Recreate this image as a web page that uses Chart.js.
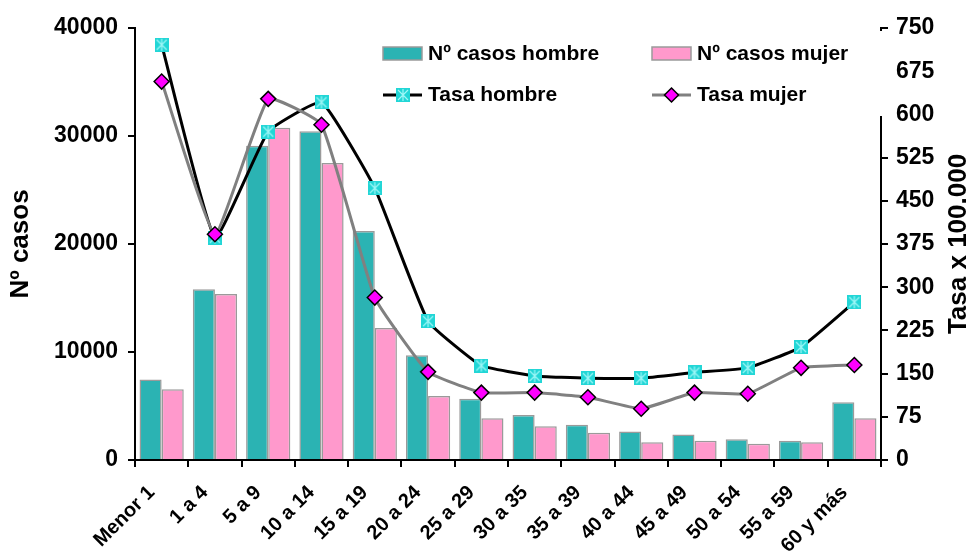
<!DOCTYPE html>
<html>
<head>
<meta charset="utf-8">
<script src="https://cdn.jsdelivr.net/npm/chart.js@4"></script>
<style>
  html, body { margin: 0; padding: 0; background: #fff; }
  #wrap { width: 972px; height: 555px; }
</style>
</head>
<body>
<div id="wrap"><canvas id="myChart" width="972" height="555"></canvas></div>
<script>
var grupos = ['Menor 1', '1 a 4', '5 a 9', '10 a 14', '15 a 19', '20 a 24', '25 a 29',
  '30 a 35', '35 a 39', '40 a 44', '45 a 49', '50 a 54', '55 a 59', '60 y más'];
var casosHombre = [7450, 15800, 29100, 30450, 21200, 9700, 5680, 4170, 3270, 2650, 2370, 1910, 1790, 5340];
var casosMujer = [6550, 15370, 30770, 27500, 12220, 5930, 3860, 3120, 2530, 1640, 1790, 1510, 1640, 3860];
var tasaHombre = [721, 386, 570, 621, 472, 241, 164, 146, 142, 142, 152, 160, 196, 274];
var tasaMujer = [657, 392, 627, 582, 282, 153, 117, 117, 109, 89, 117, 115, 160, 165];

var teal = '#2bb3b3';
var pink = '#ff99cc';
var barBorder = '#9a9a9a';
var fuente = '"Liberation Sans", Arial, sans-serif';

// cyan square with a light asterisk, like the excel marker
function starSquare() {
  var c = document.createElement('canvas');
  c.width = 14; c.height = 14;
  var g = c.getContext('2d');
  g.fillStyle = '#22d6d6';
  g.fillRect(0, 0, 14, 14);
  g.strokeStyle = '#9ff7f7';
  g.lineWidth = 1.2;
  g.beginPath();
  g.moveTo(7, 1); g.lineTo(7, 13);
  g.moveTo(2, 2); g.lineTo(12, 12);
  g.moveTo(12, 2); g.lineTo(2, 12);
  g.stroke();
  return c;
}
var marcaHombre = starSquare();

var leyenda = {
  id: 'leyenda',
  afterDraw: function (chart) {
    var c = chart.ctx;
    c.save();
    c.fillStyle = '#fff';
    c.fillRect(372, 31, 518, 85);
    c.font = 'bold 21px ' + fuente;
    c.textBaseline = 'middle';
    c.textAlign = 'left';

    // bar swatches
    c.lineWidth = 1.5;
    c.strokeStyle = barBorder;
    c.fillStyle = teal;
    c.fillRect(383, 47, 39, 13); c.strokeRect(383, 47, 39, 13);
    c.fillStyle = pink;
    c.fillRect(652, 47, 39, 13); c.strokeRect(652, 47, 39, 13);
    c.fillStyle = '#000';
    c.fillText('Nº casos hombre', 428, 54);
    c.fillText('Nº casos mujer', 697, 54);

    // line swatches
    c.lineWidth = 3;
    c.strokeStyle = '#000';
    c.beginPath(); c.moveTo(383, 95); c.lineTo(422, 95); c.stroke();
    c.drawImage(marcaHombre, 396, 88);
    c.strokeStyle = '#808080';
    c.beginPath(); c.moveTo(652, 95); c.lineTo(691, 95); c.stroke();
    c.fillStyle = '#ff00ff';
    c.strokeStyle = '#000';
    c.lineWidth = 1.5;
    c.beginPath();
    c.moveTo(671.5, 88); c.lineTo(678.5, 95); c.lineTo(671.5, 102); c.lineTo(664.5, 95); c.closePath();
    c.fill(); c.stroke();
    c.fillStyle = '#000';
    c.fillText('Tasa hombre', 428, 95);
    c.fillText('Tasa mujer', 697, 95);

    // axis titles, both read bottom to top
    c.font = 'bold 26px ' + fuente;
    c.textAlign = 'center';
    c.translate(21, 244);
    c.rotate(-Math.PI / 2);
    c.fillText('Nº casos', 0, 0);
    c.restore();
    c.save();
    c.font = 'bold 26px ' + fuente;
    c.textAlign = 'center';
    c.textBaseline = 'middle';
    c.fillStyle = '#000';
    c.translate(959, 244);
    c.rotate(-Math.PI / 2);
    c.fillText('Tasa x 100.000', 0, 0);
    c.restore();
  }
};

var ctx = document.getElementById('myChart').getContext('2d');
var myChart = new Chart(ctx, {
  type: 'bar',
  data: {
    labels: grupos,
    datasets: [{
      type: 'line',
      label: 'Tasa mujer',
      data: tasaMujer,
      yAxisID: 'y1',
      borderColor: '#808080',
      borderWidth: 3,
      tension: 0.12,
      pointStyle: 'rectRot',
      pointRadius: 7.5,
      pointBackgroundColor: '#ff00ff',
      pointBorderColor: '#000',
      pointBorderWidth: 1.5,
      order: 0
    }, {
      type: 'line',
      label: 'Tasa hombre',
      data: tasaHombre,
      yAxisID: 'y1',
      borderColor: '#000',
      borderWidth: 3,
      tension: 0.12,
      pointStyle: marcaHombre,
      order: 1
    }, {
      label: 'Nº casos hombre',
      data: casosHombre,
      yAxisID: 'y',
      backgroundColor: teal,
      borderColor: barBorder,
      borderWidth: 1.5,
      categoryPercentage: 0.83,
      barPercentage: 1.0,
      order: 2
    }, {
      label: 'Nº casos mujer',
      data: casosMujer,
      yAxisID: 'y',
      backgroundColor: pink,
      borderColor: barBorder,
      borderWidth: 1.5,
      categoryPercentage: 0.83,
      barPercentage: 1.0,
      order: 2
    }]
  },
  options: {
    responsive: false,
    animation: false,
    layout: { padding: { top: 28, left: 0, right: 0, bottom: 0 } },
    plugins: {
      legend: { display: false },
      tooltip: { enabled: false }
    },
    scales: {
      x: {
        offset: true,
        grid: { offset: true, drawOnChartArea: false, tickLength: 7, color: '#000', lineWidth: 2 },
        border: { color: '#000', width: 2 },
        ticks: {
          color: '#000',
          maxRotation: 45,
          minRotation: 45,
          padding: 14,
          labelOffset: -10,
          font: { family: fuente, size: 20, weight: 'bold' }
        },
        afterFit: function (s) { s.height = 95; }
      },
      y: {
        position: 'left',
        min: 0,
        max: 40000,
        grid: { drawOnChartArea: false, tickLength: 7, color: '#000', lineWidth: 2 },
        border: { color: '#000', width: 2 },
        ticks: {
          stepSize: 10000,
          color: '#000',
          padding: 10,
          callback: function (v) { return String(v); },
          font: { family: fuente, size: 23, weight: 'bold' }
        },
        afterFit: function (s) { s.width = 135; }
      },
      y1: {
        position: 'right',
        min: 0,
        max: 750,
        grid: { drawOnChartArea: false, tickLength: 7, color: '#000', lineWidth: 2 },
        border: { color: '#000', width: 2 },
        ticks: {
          stepSize: 75,
          color: '#000',
          padding: 8,
          font: { family: fuente, size: 23, weight: 'bold' }
        },
        afterFit: function (s) { s.width = 91; }
      }
    }
  },
  plugins: [leyenda]
});
</script>
</body>
</html>
